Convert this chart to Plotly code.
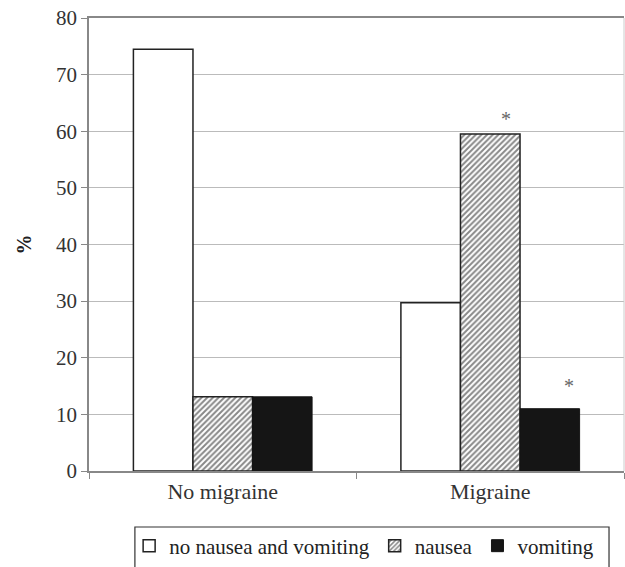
import plotly.graph_objects as go

categories = ["No migraine", "Migraine"]
no_nausea_vomiting = [74.5, 29.7]
nausea = [13.1, 59.5]
vomiting = [13.1, 11.0]
significant_nausea = [False, True]
significant_vomiting = [False, True]

FONT = "Liberation Serif"
EDGE = "#222222"
BARGAP = 0.332
BAR_W = (1 - BARGAP) / 3  # width of one bar in category units

fig = go.Figure()
fig.add_trace(go.Bar(
    name="no nausea and vomiting", x=categories, y=no_nausea_vomiting,
    marker=dict(color="white", line=dict(color=EDGE, width=1.5)),
))
fig.add_trace(go.Bar(
    name="nausea", x=categories, y=nausea,
    marker=dict(color="white", line=dict(color=EDGE, width=1.5),
                pattern=dict(shape="/", fgcolor="#111111", bgcolor="white",
                             size=4, solidity=0.5)),
))
fig.add_trace(go.Bar(
    name="vomiting", x=categories, y=vomiting,
    marker=dict(color="#151515", line=dict(color="#151515", width=1)),
))

# significance asterisks, set slightly to the right of each bar's top
for i, (flag, val) in enumerate(zip(significant_nausea, nausea)):
    if flag:
        fig.add_annotation(x=i + 0.06, y=val, text="*", showarrow=False,
                           yanchor="bottom", yshift=2,
                           font=dict(family=FONT, size=20, color="#666666"))
for i, (flag, val) in enumerate(zip(significant_vomiting, vomiting)):
    if flag:
        fig.add_annotation(x=i + BAR_W + 0.07, y=val, text="*", showarrow=False,
                           yanchor="bottom", yshift=10,
                           font=dict(family=FONT, size=20, color="#666666"))

# frame around the legend, running off the lower edge of the page
fig.add_shape(type="rect", xref="paper", yref="paper",
              x0=0.0858, x1=0.972, y0=-0.1236, y1=-0.26,
              line=dict(color="#333333", width=1.2), fillcolor="rgba(0,0,0,0)")
# faint right edge of the plot frame
fig.add_shape(type="line", xref="paper", yref="paper", x0=1, x1=1, y0=0, y1=1,
              line=dict(color="#cccccc", width=1))

fig.update_layout(
    width=625, height=567,
    barmode="group", bargap=BARGAP, bargroupgap=0,
    plot_bgcolor="white", paper_bgcolor="white",
    margin=dict(l=89, r=1, t=18, b=96, autoexpand=False),
    font=dict(family=FONT, size=18, color="#333333"),
    showlegend=True,
    legend=dict(
        orientation="h", x=0.075, xanchor="left",
        yref="container", y=0.037, yanchor="middle",
        borderwidth=0, bgcolor="rgba(0,0,0,0)",
        font=dict(family=FONT, size=21, color="#222222"),
        traceorder="normal", itemwidth=30,
    ),
    xaxis=dict(
        showline=True, linecolor="#888888", linewidth=1.5, mirror=True,
        ticks="outside", tickson="boundaries", ticklen=6, tickcolor="#888888",
        tickfont=dict(family=FONT, size=22, color="#333333"),
    ),
    yaxis=dict(
        range=[0, 80], dtick=10, showline=True, linecolor="#888888", linewidth=1.5,
        ticks="outside", ticklen=6, tickcolor="#888888",
        gridcolor="#bbbbbb", gridwidth=1, zeroline=False,
        tickfont=dict(family=FONT, size=21, color="#333333"),
        title=dict(text="<b>%</b>", font=dict(family=FONT, size=20, color="#222222"), standoff=19),
    ),
)

fig.write_html("out.html")
